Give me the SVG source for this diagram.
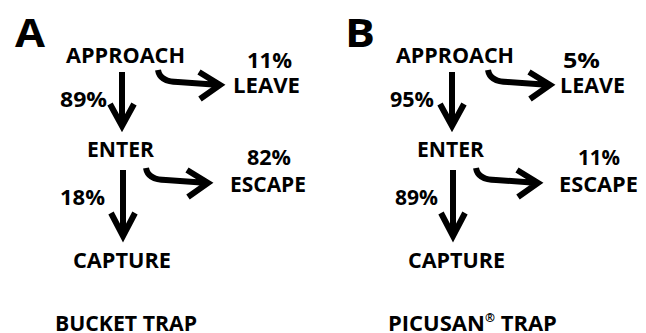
<svg xmlns="http://www.w3.org/2000/svg" width="646" height="333" viewBox="0 0 646 333">
<style>
.t{font-family:"Open Sans","Noto Sans",sans-serif;font-weight:700;font-size:22px;fill:#000}
.big{font-size:40px}
.c{fill:none;stroke:#000;stroke-width:6;stroke-linejoin:miter;stroke-linecap:butt}
</style>
<rect width="646" height="333" fill="#fff"/>
<g id="panelA">
<text id="labelA" class="t big" x="15" y="47" textLength="30" lengthAdjust="spacingAndGlyphs">A</text>
<g id="A-approach"><text class="t" x="66" y="63" textLength="119" lengthAdjust="spacingAndGlyphs">APPROACH</text></g>
<g id="A-leave"><text class="t" x="247" y="68" textLength="45" lengthAdjust="spacingAndGlyphs">11%</text><text class="t" x="233" y="93" textLength="67" lengthAdjust="spacingAndGlyphs">LEAVE</text></g>
<g id="A-p1"><text class="t" x="60" y="107" textLength="47" lengthAdjust="spacingAndGlyphs">89%</text></g>
<g id="A-enter"><text class="t" x="87" y="157" textLength="67" lengthAdjust="spacingAndGlyphs">ENTER</text></g>
<g id="A-escape"><text class="t" x="247" y="165" textLength="44" lengthAdjust="spacingAndGlyphs">82%</text><text class="t" x="230" y="192" textLength="76" lengthAdjust="spacingAndGlyphs">ESCAPE</text></g>
<g id="A-p2"><text class="t" x="60" y="205" textLength="45" lengthAdjust="spacingAndGlyphs">18%</text></g>
<g id="A-capture"><text class="t" x="73" y="268" textLength="98" lengthAdjust="spacingAndGlyphs">CAPTURE</text></g>
<g id="A-title"><text class="t" x="55" y="331" textLength="142" lengthAdjust="spacingAndGlyphs">BUCKET TRAP</text></g>
</g>
<g id="panelB">
<text id="labelB" class="t big" x="345" y="47" textLength="30" lengthAdjust="spacingAndGlyphs">B</text>
<g id="B-approach"><text class="t" x="396" y="63" textLength="118" lengthAdjust="spacingAndGlyphs">APPROACH</text></g>
<g id="B-leave"><text class="t" x="563" y="68" textLength="37" lengthAdjust="spacingAndGlyphs">5%</text><text class="t" x="560" y="93" textLength="65" lengthAdjust="spacingAndGlyphs">LEAVE</text></g>
<g id="B-p1"><text class="t" x="390" y="107" textLength="44" lengthAdjust="spacingAndGlyphs">95%</text></g>
<g id="B-enter"><text class="t" x="417" y="157" textLength="67" lengthAdjust="spacingAndGlyphs">ENTER</text></g>
<g id="B-escape"><text class="t" x="578" y="165" textLength="42" lengthAdjust="spacingAndGlyphs">11%</text><text class="t" x="559" y="192" textLength="79" lengthAdjust="spacingAndGlyphs">ESCAPE</text></g>
<g id="B-p2"><text class="t" x="395" y="205" textLength="43" lengthAdjust="spacingAndGlyphs">89%</text></g>
<g id="B-capture"><text class="t" x="408" y="268" textLength="97" lengthAdjust="spacingAndGlyphs">CAPTURE</text></g>
<g id="B-title"><text class="t" x="388" y="331" font-size="21">PICUSAN<tspan dy="-9" font-size="12">®</tspan><tspan dy="9"> TRAP</tspan></text></g>
</g>
<g id="connectors">
<path class="c" d="M122,72 V124 M110,104 L122,126 L134,104"/>
<path class="c" d="M123,170 V234 M111,213 L123,236 L135,213"/>
<path class="c" d="M158,70 Q160,82 178,82 L220,85 M199,72 L220,85 L200,99"/>
<path class="c" d="M146,168 Q148,180 166,180 L208,183 M187,170 L208,183 L188,197"/>
<path class="c" d="M452,72 V124 M440,104 L452,126 L464,104"/>
<path class="c" d="M453,170 V234 M441,213 L453,236 L465,213"/>
<path class="c" d="M488,70 Q490,82 508,82 L550,85 M529,72 L550,85 L530,99"/>
<path class="c" d="M476,168 Q478,180 496,180 L538,183 M517,170 L538,183 L518,197"/>
</g>
</svg>
